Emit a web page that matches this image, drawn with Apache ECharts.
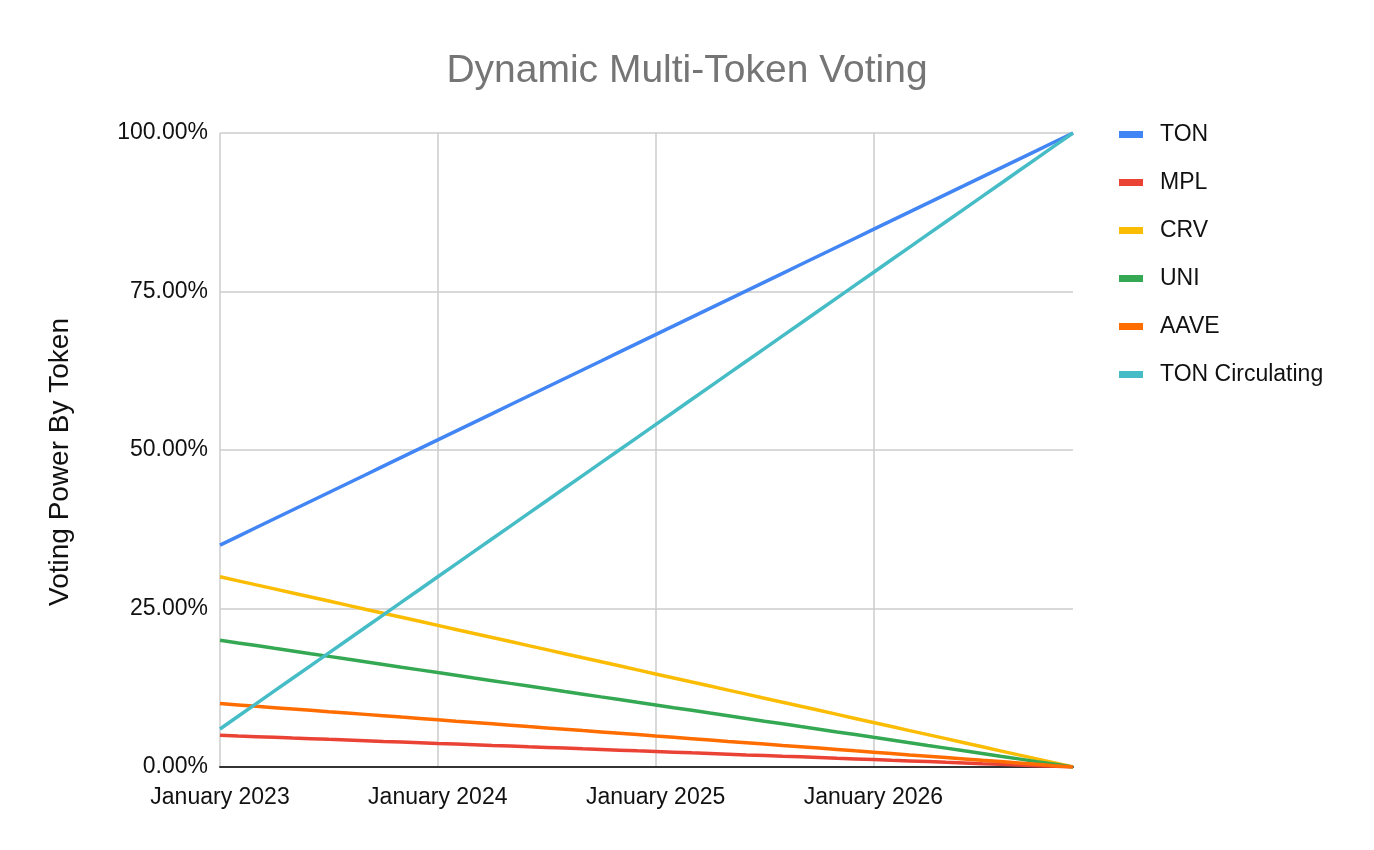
<!DOCTYPE html>
<html>
<head>
<meta charset="utf-8">
<script src="https://cdn.jsdelivr.net/npm/echarts@6/dist/echarts.min.js"></script>
<style>html,body{margin:0;padding:0;background:#fff}#c{width:1374px;height:850px}</style>
</head>
<body>
<div id="c"></div>
<script>
const months = [
  "January 2023","February 2023","March 2023","April 2023","May 2023","June 2023","July 2023","August 2023","September 2023","October 2023","November 2023","December 2023",
  "January 2024","February 2024","March 2024","April 2024","May 2024","June 2024","July 2024","August 2024","September 2024","October 2024","November 2024","December 2024",
  "January 2025","February 2025","March 2025","April 2025","May 2025","June 2025","July 2025","August 2025","September 2025","October 2025","November 2025","December 2025",
  "January 2026","February 2026","March 2026","April 2026","May 2026","June 2026","July 2026","August 2026","September 2026","October 2026","November 2026","December 2026"
];
const TON = [35,36.38,37.77,39.15,40.53,41.91,43.30,44.68,46.06,47.45,48.83,50.21,51.60,52.98,54.36,55.74,57.13,58.51,59.89,61.28,62.66,64.04,65.43,66.81,68.19,69.57,70.96,72.34,73.72,75.11,76.49,77.87,79.26,80.64,82.02,83.40,84.79,86.17,87.55,88.94,90.32,91.70,93.09,94.47,95.85,97.23,98.62,100];
const MPL = [5,4.89,4.79,4.68,4.57,4.47,4.36,4.26,4.15,4.04,3.94,3.83,3.72,3.62,3.51,3.40,3.30,3.19,3.09,2.98,2.87,2.77,2.66,2.55,2.45,2.34,2.23,2.13,2.02,1.91,1.81,1.70,1.60,1.49,1.38,1.28,1.17,1.06,0.96,0.85,0.74,0.64,0.53,0.43,0.32,0.21,0.11,0];
const CRV = [30,29.36,28.72,28.09,27.45,26.81,26.17,25.53,24.89,24.26,23.62,22.98,22.34,21.70,21.06,20.43,19.79,19.15,18.51,17.87,17.23,16.60,15.96,15.32,14.68,14.04,13.40,12.77,12.13,11.49,10.85,10.21,9.57,8.94,8.30,7.66,7.02,6.38,5.74,5.11,4.47,3.83,3.19,2.55,1.91,1.28,0.64,0];
const UNI = [20,19.57,19.15,18.72,18.30,17.87,17.45,17.02,16.60,16.17,15.74,15.32,14.89,14.47,14.04,13.62,13.19,12.77,12.34,11.91,11.49,11.06,10.64,10.21,9.79,9.36,8.94,8.51,8.09,7.66,7.23,6.81,6.38,5.96,5.53,5.11,4.68,4.26,3.83,3.40,2.98,2.55,2.13,1.70,1.28,0.85,0.43,0];
const AAVE = [10,9.79,9.57,9.36,9.15,8.94,8.72,8.51,8.30,8.09,7.87,7.66,7.45,7.23,7.02,6.81,6.60,6.38,6.17,5.96,5.74,5.53,5.32,5.11,4.89,4.68,4.47,4.26,4.04,3.83,3.62,3.40,3.19,2.98,2.77,2.55,2.34,2.13,1.91,1.70,1.49,1.28,1.06,0.85,0.64,0.43,0.21,0];
const TON_CIRC = [6,8,10,12,14,16,18,20,22,24,26,28,30,32,34,36,38,40,42,44,46,48,50,52,54,56,58,60,62,64,66,68,70,72,74,76,78,80,82,84,86,88,90,92,94,96,98,100];
const seriesNames = ["TON","MPL","CRV","UNI","AAVE","TON Circulating"];
const seriesData = [TON, MPL, CRV, UNI, AAVE, TON_CIRC];
const colors = ["#4285F4","#EA4335","#FBBC04","#34A853","#FF6D01","#46BDC6"];
const yTicks = [0,25,50,75,100];

const font = "'Liberation Sans', Arial, sans-serif";
const chart = echarts.init(document.getElementById('c'), null, {renderer:'canvas'});
chart.setOption({
  animation:false,
  color: colors,
  title:{
    text:'Dynamic Multi-Token Voting',
    left:'center', top:47,
    textStyle:{fontFamily:font, fontSize:39, fontWeight:'normal', color:'#757575'}
  },
  legend:{
    orient:'vertical', left:1114, top:118,
    itemWidth:24, itemHeight:7, itemGap:25,
    icon:'rect',
    data: seriesNames,
    textStyle:{fontFamily:font, fontSize:23, color:'#111', padding:[0,0,0,12]}
  },
  grid:{left:220, right:301, top:133, bottom:83, containLabel:false},
  xAxis:{
    type:'category', data:months, boundaryGap:false,
    axisLine:{show:true, lineStyle:{color:'#333', width:2}},
    axisTick:{show:false},
    axisLabel:{interval:11, margin:19, fontFamily:font, fontSize:23, color:'#111'},
    splitLine:{show:true, interval:11, lineStyle:{color:'#cccccc', width:1.5}}
  },
  yAxis:{
    type:'value', min:yTicks[0], max:yTicks[yTicks.length-1], interval:25,
    name:'Voting Power By Token', nameLocation:'middle', nameGap:146, nameRotate:90,
    nameTextStyle:{fontFamily:font, fontSize:28, color:'#111', padding:[0,24,0,0]},
    axisLine:{show:false}, axisTick:{show:false},
    axisLabel:{margin:12, fontFamily:font, fontSize:23, color:'#111',
      formatter: v => v.toFixed(2) + '%'},
    splitLine:{show:true, lineStyle:{color:'#cccccc', width:1.5}}
  },
  series: seriesNames.map((n,i)=>({
    name:n, type:'line', data:seriesData[i], showSymbol:false, symbol:'none',
    lineStyle:{width:3.5, color:colors[i]}, itemStyle:{color:colors[i]}
  }))
});
</script>
</body>
</html>
